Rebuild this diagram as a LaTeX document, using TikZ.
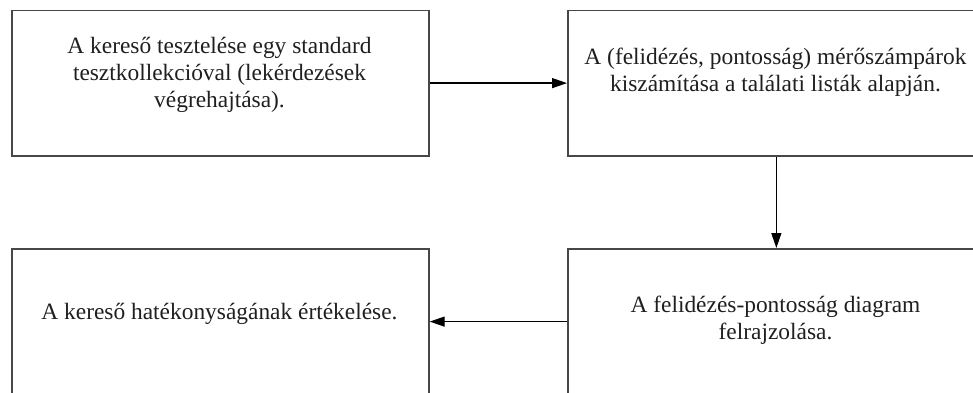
\documentclass[tikz,border=0pt]{standalone}
\usepackage{fontspec}
\setmainfont{Liberation Serif}
\usetikzlibrary{arrows.meta}
\begin{document}
\begin{tikzpicture}[x=1pt,y=-1pt,
  stagebox/.style={draw=black!72, line width=1.7pt, minimum width=417pt,
    minimum height=145.5pt, inner sep=0pt, anchor=north west},
  stagetext/.style={font=\fontsize{23.4}{27}\selectfont, align=center,
    text=black!88, inner sep=0pt},
  flow/.style={draw=black, line width=1.3pt,
    -{Triangle[length=15pt,width=10pt]}}]
\useasboundingbox (0,0) rectangle (973,392);
\begin{scope}
  \clip (0,0) rectangle (973,392);
  % the four process stages
  \node[stagebox] (test)    at (11,9.5)  {};
  \node[stagebox] (measure) at (567,9.5) {};
  \node[stagebox] (plot)    at (567,248) {};
  \node[stagebox] (eval)    at (11,248)  {};
  % stage descriptions
  \node[stagetext] (testtxt) at (219.5,75)
    {A kereső tesztelése egy standard\\tesztkollekcióval (lekérdezések\\végrehajtása).};
  \node[stagetext] (measuretxt) at (775.5,72)
    {A (felidézés, pontosság) mérőszámpárok\\kiszámítása a találati listák alapján.};
  \node[stagetext] (plottxt) at (775.5,320)
    {A felidézés-pontosság diagram\\felrajzolása.};
  \node[stagetext] (evaltxt) at (219.5,313.5)
    {A kereső hatékonyságának értékelése.};
  % flow between the stages
  \draw[flow] (test.east) -- (measure.west);
  \draw[flow] (measure.south) -- (plot.north);
  \draw[flow] (plot.west) -- (eval.east);
\end{scope}
\end{tikzpicture}
\end{document}
